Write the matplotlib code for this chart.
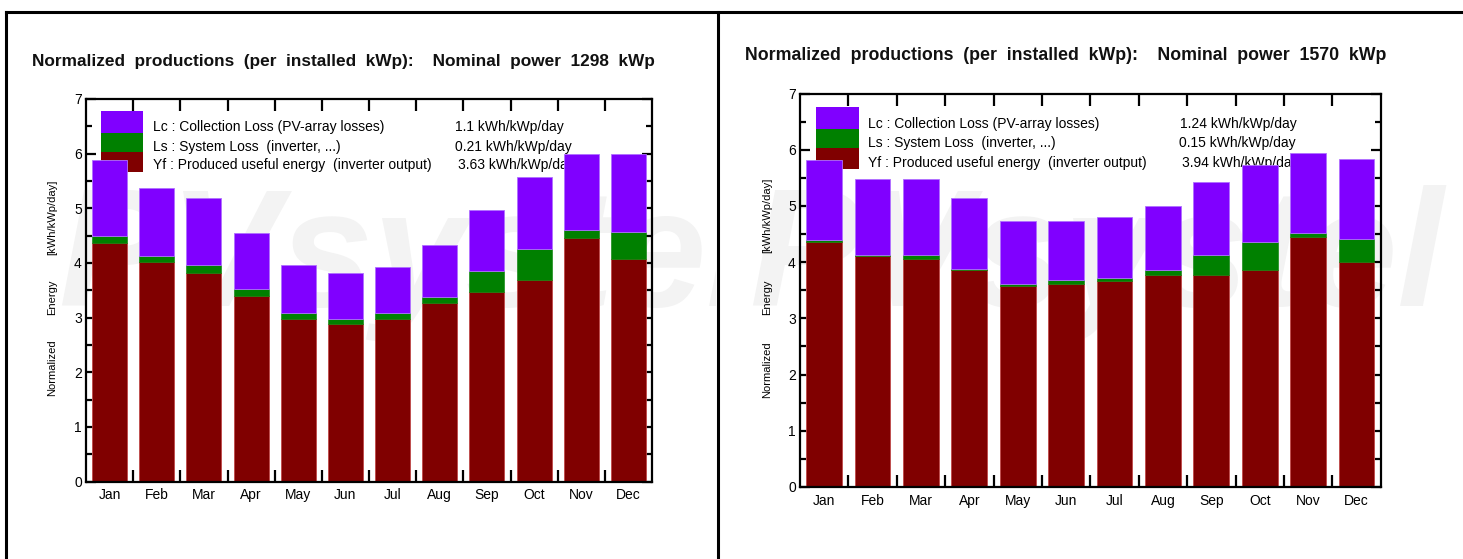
import matplotlib
matplotlib.use("Agg")
import matplotlib.pyplot as plt
import numpy as np
from matplotlib.lines import Line2D
from matplotlib.patches import Rectangle
from matplotlib.transforms import Bbox, TransformedBbox
from matplotlib.ticker import MultipleLocator, FixedLocator

months = ["Jan", "Feb", "Mar", "Apr", "May", "Jun", "Jul", "Aug", "Sep", "Oct", "Nov", "Dec"]

# Left system (1298 kWp)
yf_left = [4.36, 4.01, 3.82, 3.39, 2.97, 2.89, 2.97, 3.27, 3.47, 3.68, 4.46, 4.07]
ls_left = [0.14, 0.12, 0.14, 0.13, 0.11, 0.08, 0.11, 0.10, 0.39, 0.58, 0.14, 0.50]
lc_left = [1.38, 1.25, 1.22, 1.02, 0.88, 0.85, 0.84, 0.95, 1.10, 1.31, 1.39, 1.42]
title_left = "Normalized  productions  (per  installed  kWp):    Nominal  power  1298  kWp"
values_left = ["1.1 kWh/kWp/day", "0.21 kWh/kWp/day", "3.63 kWh/kWp/day"]

# Right system (1570 kWp)
yf_right = [4.35, 4.11, 4.06, 3.86, 3.58, 3.62, 3.67, 3.77, 3.77, 3.86, 4.45, 4.00]
ls_right = [0.04, 0.01, 0.06, 0.02, 0.03, 0.06, 0.05, 0.09, 0.35, 0.49, 0.06, 0.41]
lc_right = [1.43, 1.36, 1.36, 1.26, 1.13, 1.06, 1.08, 1.13, 1.31, 1.38, 1.43, 1.43]
title_right = "Normalized  productions  (per  installed  kWp):    Nominal  power  1570  kWp"
values_right = ["1.24 kWh/kWp/day", "0.15 kWh/kWp/day", "3.94 kWh/kWp/day"]

legend_labels = ["Lc : Collection Loss (PV-array losses)",
                 "Ls : System Loss  (inverter, ...)",
                 "Yf : Produced useful energy  (inverter output)"]
ylabel_parts = ["Normalized", "Energy", "[kWh/kWp/day]"]
watermark = "PVsystel"

C_LC = "#8000ff"
C_LS = "#008000"
C_YF = "#800000"

plt.rcParams["font.family"] = ["Liberation Sans", "DejaVu Sans"]

W, H = 1463, 559
fig = plt.figure(figsize=(W / 100, H / 100), dpi=100)
fig.patch.set_facecolor("white")


def px_rect(x0, y0, x1, y1):
    return [x0 / W, 1 - y1 / H, (x1 - x0) / W, (y1 - y0) / H]


def draw_panel(rect, yf, ls, lc, title, title_xy, title_fs, values, value_x, text_x,
               base_y, patch_x, patch_y, ylab_x, ylab_y, fs):
    ax = fig.add_axes(px_rect(*rect))
    ax.set_facecolor("none")
    X0, Y0, X1, Y1 = rect
    w = X1 - X0
    h = Y1 - Y0

    def ax_xy(px, py):
        return (px - X0) / w, 1 - (py - Y0) / h

    x = np.arange(len(months)) + 0.5
    yf = np.array(yf); ls = np.array(ls); lc = np.array(lc)
    bw = 0.74
    ax.bar(x, yf, bw, color=C_YF, edgecolor="#c04848", linewidth=0.6, zorder=3)
    ax.bar(x, ls, bw, bottom=yf, color=C_LS, edgecolor=C_LS, linewidth=0.4, zorder=3)
    ax.bar(x, lc, bw, bottom=yf + ls, color=C_LC, edgecolor="#b070ff", linewidth=0.6, zorder=3)

    ax.set_xlim(0, 12)
    ax.set_ylim(0, 7)
    ax.xaxis.set_major_locator(FixedLocator(x))
    ax.set_xticklabels(months, fontsize=fs)
    ax.xaxis.set_minor_locator(FixedLocator(np.arange(1, 12)))
    ax.tick_params(axis="x", which="major", length=0, pad=5)
    ax.tick_params(axis="x", which="minor", direction="in", length=8.5, width=1.6,
                   top=True, bottom=True)
    ax.yaxis.set_major_locator(MultipleLocator(1))
    ax.yaxis.set_minor_locator(MultipleLocator(0.5))
    ax.tick_params(axis="y", which="major", direction="in", length=7.5, width=1.6,
                   left=True, right=True, labelsize=fs, pad=3)
    ax.tick_params(axis="y", which="minor", direction="in", length=4.5, width=1.6,
                   left=True, right=True)
    for s in ax.spines.values():
        s.set_linewidth(1.6)
        s.set_zorder(5)

    # legend block (drawn under the bars, as in the reference)
    for i, col in enumerate([C_LC, C_LS, C_YF]):
        ax0, ay1 = ax_xy(patch_x[0], patch_y[i])
        ax1, ay0 = ax_xy(patch_x[1], patch_y[i + 1])
        ax.add_patch(Rectangle((ax0, ay0), ax1 - ax0, ay1 - ay0, transform=ax.transAxes,
                               facecolor=col, edgecolor="none", zorder=1, clip_on=False))
        tx, ty = ax_xy(text_x, base_y[i])
        ax.text(tx, ty, legend_labels[i], transform=ax.transAxes, fontsize=fs,
                va="baseline", ha="left", zorder=1)
        vx, vy = ax_xy(value_x[i], base_y[i])
        ax.text(vx, vy, values[i], transform=ax.transAxes, fontsize=fs,
                va="baseline", ha="left", zorder=1)

    for txt, yy in zip(ylabel_parts, ylab_y):
        fig.text(ylab_x / W, 1 - yy / H, txt, rotation=90, fontsize=fs * 0.8,
                 ha="center", va="center")

    fig.text(title_xy[0] / W, 1 - title_xy[1] / H, title, fontsize=title_fs,
             fontweight="bold", ha="left", va="center", color="#111111")
    return ax


def add_watermark(x, base, x0, x1):
    t = fig.text(x / W, 1 - base / H, watermark, fontsize=120, fontstyle="italic",
                 fontweight="bold", color="#f3f3f3", ha="left", va="baseline", zorder=-5)
    t.set_clip_box(TransformedBbox(Bbox.from_extents(x0 / W, 0, x1 / W, 1 - 13 / H),
                                   fig.transFigure))
    t.set_clip_on(True)


add_watermark(58, 306, 7, 716)
add_watermark(749, 306, 720, W)

draw_panel((86, 99, 652, 481.5), yf_left, ls_left, lc_left, title_left, (32, 61.5), 12.4,
           values_left, [455, 455, 458.5], 153, [131, 150.5, 169.3],
           (101, 142.7), [111, 133, 152.3, 172], 52.5, [368, 297, 217], 10)
draw_panel((800, 93.5, 1380.7, 487), yf_right, ls_right, lc_right, title_right, (745, 55), 12.8,
           values_right, [1179.5, 1179, 1182], 868, [127.7, 147.3, 166.7],
           (816, 859), [106.7, 129, 148.3, 169], 767, [370, 297, 215], 10)

# frame lines of the report page
for xs, ys in [([5.5 / W, 1], [1 - 11.5 / H, 1 - 11.5 / H]),
               ([5.5 / W, 5.5 / W], [0, 1 - 11.5 / H]),
               ([718 / W, 718 / W], [0, 1 - 11.5 / H])]:
    fig.add_artist(Line2D(xs, ys, color="black", lw=2.2, transform=fig.transFigure))

fig.savefig("out.png", dpi=100)
